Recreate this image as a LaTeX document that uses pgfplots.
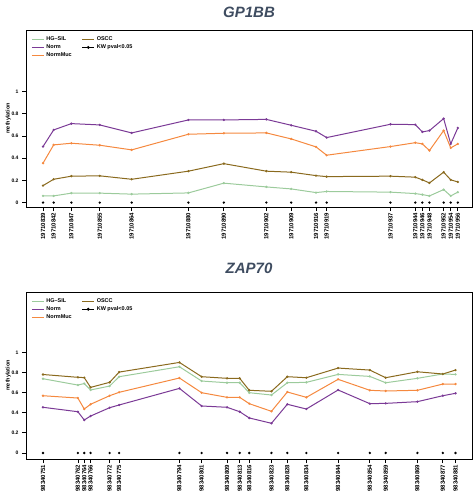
\documentclass[border=0pt]{standalone}
\usepackage{fontspec}
\setmainfont{Liberation Sans}
\usepackage{pgfplots}
\usepackage{pgfplotstable}
\pgfplotsset{compat=1.18}
\definecolor{cHG}{HTML}{9CCB9C}
\definecolor{cNorm}{HTML}{7B3A96}
\definecolor{cMuc}{HTML}{F5893F}
\definecolor{cOSCC}{HTML}{8A6A1E}
\definecolor{cTitle}{HTML}{3E4C60}
% x = genomic position minus 19710000 (GP1BB) / 98340000 (ZAP70)
\pgfplotstableread{
x   hg    norm  muc   oscc  kw
839 0.060 0.505 0.355 0.153 0
842 0.060 0.655 0.520 0.210 0
847 0.085 0.712 0.535 0.238 0
855 0.085 0.700 0.517 0.241 0
864 0.076 0.628 0.475 0.210 0
880 0.087 0.745 0.616 0.283 0
890 0.175 0.745 0.625 0.351 0
902 0.141 0.750 0.628 0.283 0
909 0.123 0.697 0.574 0.274 0
916 0.090 0.643 0.502 0.243 0
919 0.100 0.586 0.427 0.234 0
937 0.094 0.706 0.505 0.238 0
944 0.081 0.703 0.540 0.229 0
946 0.072 0.637 0.529 0.205 0
948 0.060 0.649 0.469 0.177 0
952 0.117 0.757 0.649 0.274 0
954 0.060 0.529 0.493 0.205 0
956 0.094 0.673 0.529 0.186 0
}\gpdata
\pgfplotstableread{
x   hg    norm  muc   oscc  kw
751 0.738 0.454 0.569 0.780 0
762 0.675 0.410 0.546 0.752 0
764 0.690 0.328 0.437 0.749 0
766 0.626 0.367 0.484 0.652 0
772 0.665 0.450 0.569 0.702 0
775 0.758 0.477 0.603 0.804 0
794 0.857 0.642 0.745 0.900 0
801 0.715 0.467 0.599 0.758 0
809 0.698 0.454 0.553 0.742 0
813 0.698 0.410 0.553 0.742 0
816 0.599 0.348 0.490 0.623 0
823 0.576 0.295 0.414 0.613 0
828 0.698 0.484 0.606 0.758 0
834 0.702 0.437 0.553 0.748 0
844 0.781 0.626 0.732 0.844 0
854 0.761 0.490 0.623 0.824 0
859 0.698 0.493 0.616 0.748 0
869 0.742 0.510 0.623 0.807 0
877 0.785 0.569 0.685 0.785 0
881 0.781 0.593 0.685 0.824 0
}\zapdata
\pgfplotsset{
  meth/.style={
    scale only axis, width=446pt,
    axis line style={line width=0.9pt},
    tick pos=left, tick align=outside,
    major tick length=4pt,
    every tick/.style={black, line width=0.7pt},
    ytick={0,0.2,0.4,0.6,0.8,1},
    yticklabels={0,0.2,0.4,0.6,0.8,1},
    /pgf/number format/assume math mode=true,
    yticklabel style={font=\bfseries\fontsize{5}{6}\selectfont},
    xticklabel style={font=\bfseries\fontsize{6}{7}\selectfont, rotate=90, anchor=east, inner sep=1.5pt},
    ylabel={methylation},
    ylabel style={font=\bfseries\fontsize{5.5}{6}\selectfont, yshift=-6pt},
    legend style={draw=none, fill=none, at={(0.005,0.985)}, anchor=north west,
      font=\bfseries\fontsize{5.5}{6.5}\selectfont, row sep=-1.5pt,
      /tikz/every even column/.append style={column sep=8pt}},
    legend columns=3, transpose legend,
    legend cell align=left,
    legend image code/.code={\draw[#1, line width=1pt] (0pt,0pt) -- (12pt,0pt);},
    every axis plot/.append style={line width=1pt, mark=*, mark size=0.6pt},
  }
}
\begin{document}
\begin{tikzpicture}
\path[use as bounding box] (0,0) rectangle (473pt,-492pt);
\node[font=\bfseries\itshape\fontsize{15}{16}\selectfont, text=cTitle] at (249pt,-12pt) {GP1BB};
\begin{axis}[meth, at={(26pt,-30pt)}, anchor=north west, height=177pt,
  xmin=834.2, xmax=960, ymin=-0.04, ymax=1.556,
  xtick={839,842,847,855,864,880,890,902,909,916,919,937,944,946,948,952,954,956},
  xticklabels={19710839,19710842,19710847,19710855,19710864,19710880,19710890,19710902,19710909,19710916,19710919,19710937,19710944,19710946,19710948,19710952,19710954,19710956}]
\addplot[cHG, mark options={fill=cHG}] table[x=x,y=hg]{\gpdata};
\addlegendentry{HG--SIL}
\addplot[cNorm, mark options={fill=cNorm}] table[x=x,y=norm]{\gpdata};
\addlegendentry{Norm}
\addplot[cMuc, mark options={fill=cMuc}] table[x=x,y=muc]{\gpdata};
\addlegendentry{NormMuc}
\addplot[cOSCC, mark options={fill=cOSCC}] table[x=x,y=oscc]{\gpdata};
\addlegendentry{OSCC}
\addplot[black, only marks, mark=*, mark size=0.6pt,
  legend image code/.code={\draw[black, line width=0.7pt] (0pt,0pt) -- (12pt,0pt); \fill[black] (6pt,0pt) circle (0.9pt);}] table[x=x,y=kw]{\gpdata};
\addlegendentry{KW pval<0.05}
\end{axis}
\node[font=\bfseries\itshape\fontsize{15}{16}\selectfont, text=cTitle] at (249pt,-268pt) {ZAP70};
\begin{axis}[meth, at={(26pt,-292pt)}, anchor=north west, height=167pt,
  xmin=745.65, xmax=886.2, ymin=-0.06, ymax=1.60,
  xtick={751,762,764,766,772,775,794,801,809,813,816,823,828,834,844,854,859,869,877,881},
  xticklabels={98340751,98340762,98340764,98340766,98340772,98340775,98340794,98340801,98340809,98340813,98340816,98340823,98340828,98340834,98340844,98340854,98340859,98340869,98340877,98340881}]
\addplot[cHG, mark options={fill=cHG}] table[x=x,y=hg]{\zapdata};
\addlegendentry{HG--SIL}
\addplot[cNorm, mark options={fill=cNorm}] table[x=x,y=norm]{\zapdata};
\addlegendentry{Norm}
\addplot[cMuc, mark options={fill=cMuc}] table[x=x,y=muc]{\zapdata};
\addlegendentry{NormMuc}
\addplot[cOSCC, mark options={fill=cOSCC}] table[x=x,y=oscc]{\zapdata};
\addlegendentry{OSCC}
\addplot[black, only marks, mark=*, mark size=0.6pt,
  legend image code/.code={\draw[black, line width=0.7pt] (0pt,0pt) -- (12pt,0pt); \fill[black] (6pt,0pt) circle (0.9pt);}] table[x=x,y=kw]{\zapdata};
\addlegendentry{KW pval<0.05}
\end{axis}
\end{tikzpicture}
\end{document}
